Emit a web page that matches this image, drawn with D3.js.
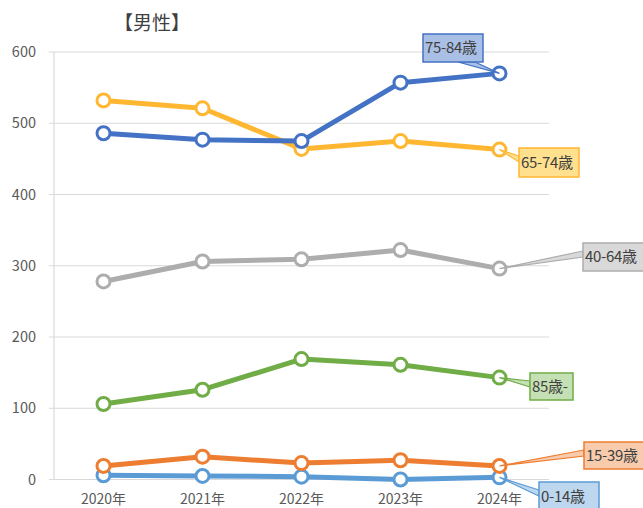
<!DOCTYPE html>
<html>
<head>
<meta charset="utf-8">
<script src="https://cdn.jsdelivr.net/npm/d3@7"></script>
<style>
body { margin: 0; background: #fff; }
svg text { font-family: "Noto Sans CJK JP", "Noto Sans", sans-serif; }
</style>
</head>
<body>
<div id="chart"></div>
<script>
var years = ["2020年", "2021年", "2022年", "2023年", "2024年"];
var yTicks = [0, 100, 200, 300, 400, 500, 600];

var age0_14 = [6, 5, 4, 0, 3];
var age15_39 = [19, 32, 23, 27, 19];
var age40_64 = [278, 306, 309, 322, 296];
var age65_74 = [532, 521, 464, 475, 463];
var age75_84 = [486, 477, 475, 557, 570];
var age85 = [106, 126, 169, 161, 143];

var series = [
    {name: "0-14歳", values: age0_14, color: "#5B9BD5", fill: "#BDD7EE", box: [539, 482, 60, 30], tip: "left"},
    {name: "15-39歳", values: age15_39, color: "#ED7D31", fill: "#F8CBAD", box: [584, 442, 66, 27], tip: "left"},
    {name: "40-64歳", values: age40_64, color: "#ADADAD", fill: "#D9D9D9", box: [583, 243, 66, 28], tip: "left"},
    {name: "65-74歳", values: age65_74, color: "#FFB732", fill: "#FFE08F", box: [519, 148, 60, 29], tip: "left"},
    {name: "75-84歳", values: age75_84, color: "#4472C4", fill: "#A9BFE5", box: [423, 34, 60, 28], tip: "bottom"},
    {name: "85歳-", values: age85, color: "#70AD47", fill: "#C5E0B4", box: [530, 373, 43, 27], tip: "left"}
];

var margin = {top: 52, left: 54},
    width = 495,
    height = 427.5;

var svg = d3.select("#chart")
    .append("svg")
    .attr("width", 643)
    .attr("height", 508);

var g = svg.append("g")
    .attr("transform", "translate(" + margin.left + "," + margin.top + ")");

var x = d3.scalePoint()
    .domain(years)
    .range([0, width])
    .padding(0.5);

var y = d3.scaleLinear()
    .domain([0, 600])
    .range([height, 0]);

// grid
g.append("g")
    .selectAll("line")
    .data(yTicks)
    .enter()
    .append("line")
    .attr("x1", -5)
    .attr("x2", width)
    .attr("y1", function(d) { return y(d); })
    .attr("y2", function(d) { return y(d); })
    .attr("stroke", "#D9D9D9")
    .attr("stroke-width", 1.2);

g.append("line")
    .attr("x1", 0).attr("x2", 0)
    .attr("y1", 0).attr("y2", height)
    .attr("stroke", "#D9D9D9")
    .attr("stroke-width", 1.2);

g.append("g")
    .selectAll("text")
    .data(yTicks)
    .enter()
    .append("text")
    .attr("x", -18)
    .attr("y", function(d) { return y(d); })
    .attr("dy", "0.35em")
    .attr("text-anchor", "end")
    .attr("fill", "#595959")
    .style("font-size", "14.5px")
    .text(function(d) { return d; });

g.append("g")
    .selectAll("text")
    .data(years)
    .enter()
    .append("text")
    .attr("x", function(d) { return x(d); })
    .attr("y", height + 24)
    .attr("text-anchor", "middle")
    .attr("fill", "#595959")
    .style("font-size", "14px")
    .text(function(d) { return d; });

svg.append("text")
    .attr("x", 152)
    .attr("y", 30)
    .attr("text-anchor", "middle")
    .attr("fill", "#404040")
    .style("font-size", "19px")
    .text("【男性】");

var line = d3.line()
    .x(function(d, i) { return x(years[i]); })
    .y(function(d) { return y(d); });

series.forEach(function(s) {
    g.append("path")
        .datum(s.values)
        .attr("fill", "none")
        .attr("stroke", s.color)
        .attr("stroke-width", 5)
        .attr("stroke-linejoin", "round")
        .attr("d", line);

    g.append("g")
        .selectAll("circle")
        .data(s.values)
        .enter()
        .append("circle")
        .attr("cx", function(d, i) { return x(years[i]); })
        .attr("cy", function(d) { return y(d); })
        .attr("r", 6.5)
        .attr("fill", "white")
        .attr("stroke", s.color)
        .attr("stroke-width", 3);
});

// callout labels
series.forEach(function(s) {
    var b = s.box;
    var px = margin.left + x(years[4]);
    var py = margin.top + y(s.values[4]);
    var pts;
    if (s.tip == "bottom") {
        pts = [[b[0] + 35, b[1] + b[3]], [px, py], [b[0] + 52, b[1] + b[3]]];
    } else {
        pts = [[b[0], b[1] + 8], [px, py], [b[0], b[1] + 14]];
    }
    svg.append("polygon")
        .attr("points", pts.map(function(p) { return p.join(","); }).join(" "))
        .attr("fill", s.fill)
        .attr("stroke", s.color)
        .attr("stroke-width", 1.2);
    svg.append("rect")
        .attr("x", b[0])
        .attr("y", b[1])
        .attr("width", b[2])
        .attr("height", b[3])
        .attr("fill", s.fill)
        .attr("stroke", s.color)
        .attr("stroke-width", 1.5);
    svg.append("text")
        .attr("x", b[0] + 2)
        .attr("y", b[1] + b[3] / 2)
        .attr("dy", "0.35em")
        .attr("fill", "#404040")
        .style("font-size", "15px")
        .style("letter-spacing", "-0.3px")
        .text(s.name);
});
</script>
</body>
</html>
